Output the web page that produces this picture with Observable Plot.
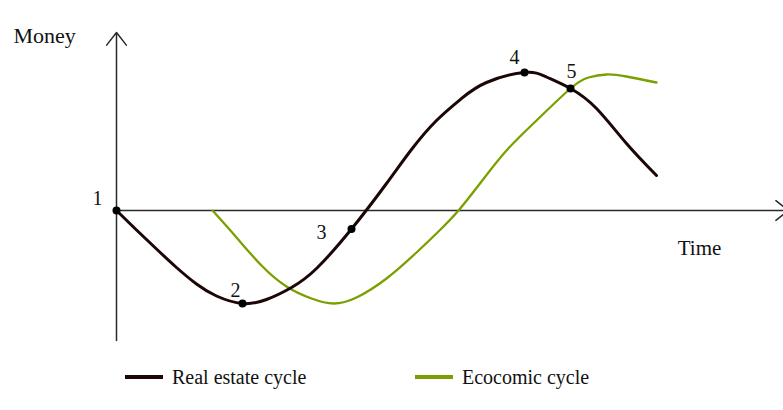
<!DOCTYPE html>
<html>
<head>
<meta charset="utf-8">
<script src="https://cdn.jsdelivr.net/npm/d3@7"></script>
<script src="https://cdn.jsdelivr.net/npm/@observablehq/plot@0.6"></script>
<style>
  html, body { margin: 0; padding: 0; background: #fff; }
  #chart svg { display: block; }
  .legend { display: flex; padding-left: 125px; padding-top: 20px; height: 24px;
            font-family: "Liberation Serif", "DejaVu Serif", serif; font-size: 20px; color: #111; }
  .item { display: flex; align-items: center; width: 290px; }
  .sw { width: 38px; height: 4px; margin-right: 9px; }
</style>
</head>
<body>
<div id="chart"></div>
<div class="legend" id="legend"></div>
<script>
// ---- data (time units / money units) ----
const realTime  = [0, 2, 4, 6, 8, 10, 12.6, 15, 17.5, 20, 23.5, 27, 29.5, 32, 34.5, 37, 40.8, 43, 45.4, 48, 51, 54];
const realMoney = [0, -1.95, -3.85, -5.7, -7.35, -8.55, -9.3, -8.9, -7.7, -5.8, -1.85, 2.7, 6.1, 9.0, 11.2, 12.8, 13.8, 13.35, 12.2, 10.2, 6.7, 3.5];
const econTime  = [9.6, 12, 14.5, 17, 19.5, 21.7, 24, 27, 30, 32.2, 34.2, 36.5, 39, 42, 45.4, 47.2, 49, 51, 54];
const econMoney = [0, -2.7, -5.5, -7.6, -8.8, -9.3, -8.7, -6.8, -4.2, -2.1, 0, 2.9, 6.0, 9.0, 12.2, 13.3, 13.6, 13.4, 12.8];
const pointLabels = ["1", "2", "3", "4", "5"];
const pointTime   = [0, 12.6, 23.5, 40.8, 45.4];
const pointMoney  = [0, -9.3, -1.85, 13.8, 12.2];
const seriesNames  = ["Real estate cycle", "Ecocomic cycle"];
const seriesColors = ["#1c0606", "#7aa000"];
const timeExtent  = [0, 67.2];
const moneyExtent = [-13, 17.8];
const axisTitles  = ["Time", "Money"];

// ---- tables built from the arrays ----
const real = realTime.map((t, i) => ({t, m: realMoney[i]}));
const econ = econTime.map((t, i) => ({t, m: econMoney[i]}));
const points = pointLabels.map((label, i) => ({label, t: pointTime[i], m: pointMoney[i]}));
const axes = [
  {x1: timeExtent[0], y1: 0, x2: timeExtent[1], y2: 0},
  {x1: 0, y1: moneyExtent[0], x2: 0, y2: moneyExtent[1]}
];
const labelOffsets = [[-19, -12], [-7, -13], [-30, 4], [-10, -15], [1, -17]];
const font = "Liberation Serif";

const chart = Plot.plot({
  width: 783,
  height: 345,
  marginLeft: 116,
  marginRight: 0,
  marginTop: 32,
  marginBottom: 5,
  x: {domain: [0, 66.7], axis: null},
  y: {domain: moneyExtent, axis: null},
  style: {fontFamily: font, background: "#fff"},
  marks: [
    Plot.arrow(axes, {x1: "x1", y1: "y1", x2: "x2", y2: "y2", stroke: "#2a2a2a", strokeWidth: 1.5, headLength: 16, headAngle: 76}),
    Plot.line(econ, {x: "t", y: "m", stroke: seriesColors[1], strokeWidth: 2.3, curve: "natural"}),
    Plot.line(real, {x: "t", y: "m", stroke: seriesColors[0], strokeWidth: 3, curve: "natural"}),
    Plot.dot(points, {x: "t", y: "m", r: 4, fill: "#000"}),
    ...points.map((p, i) => Plot.text([p], {x: "t", y: "m", text: "label", dx: labelOffsets[i][0], dy: labelOffsets[i][1],
      fontSize: 20, fill: "#111", fontFamily: font})),
    Plot.text([axisTitles[0]], {frameAnchor: "right", textAnchor: "middle", dx: -84, dy: 62, text: d => d, fontSize: 21, fill: "#111", fontFamily: font}),
    Plot.text([axisTitles[1]], {frameAnchor: "top-left", textAnchor: "start", dx: -103, dy: -5, text: d => d, fontSize: 22, fill: "#111", fontFamily: font})
  ]
});
document.getElementById("chart").appendChild(chart);

const legend = document.getElementById("legend");
seriesNames.forEach((name, i) => {
  const item = document.createElement("div");
  item.className = "item";
  const sw = document.createElement("span");
  sw.className = "sw";
  sw.style.background = seriesColors[i];
  const lab = document.createElement("span");
  lab.textContent = name;
  item.appendChild(sw);
  item.appendChild(lab);
  legend.appendChild(item);
});
</script>
</body>
</html>
